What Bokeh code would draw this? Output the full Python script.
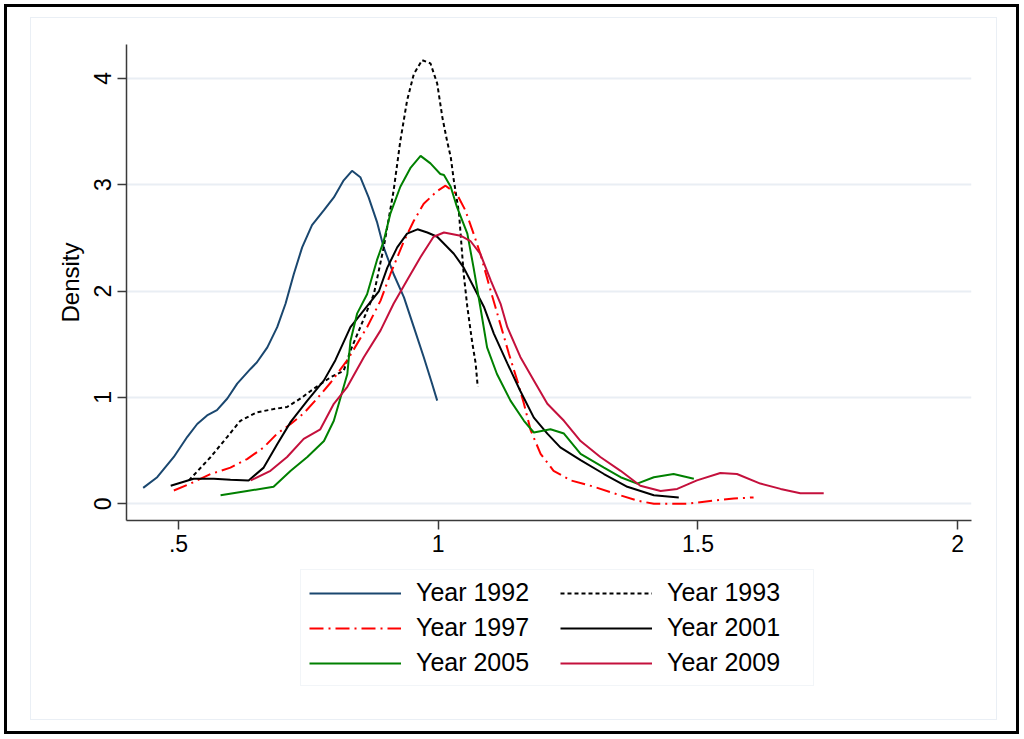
from bokeh.plotting import figure
from bokeh.models import Range1d, Legend, LegendItem, FixedTicker, Div
from bokeh.layouts import column
from bokeh.embed import file_html
from bokeh.resources import INLINE

# ---- data ----
x1992 = [0.432, 0.459, 0.491, 0.517, 0.536, 0.555, 0.574, 0.594, 0.613, 0.639, 0.651, 0.671, 0.690, 0.706,
         0.722, 0.738, 0.757, 0.780, 0.799, 0.818, 0.834, 0.850, 0.866, 0.882, 0.895, 0.914, 0.934, 0.953,
         0.972, 0.988, 0.998]
y1992 = [0.15, 0.25, 0.44, 0.63, 0.75, 0.83, 0.88, 0.99, 1.13, 1.27, 1.33, 1.47, 1.66, 1.88,
         2.16, 2.41, 2.62, 2.76, 2.88, 3.04, 3.13, 3.07, 2.88, 2.65, 2.41, 2.16, 1.94, 1.66,
         1.38, 1.13, 0.97]

x1993 = [0.520, 0.562, 0.594, 0.619, 0.651, 0.683, 0.709, 0.735, 0.760, 0.793, 0.818, 0.831, 0.850, 0.876,
         0.895, 0.914, 0.927, 0.940, 0.953, 0.969, 0.985, 0.998, 1.008, 1.017, 1.024, 1.030, 1.040, 1.049,
         1.056, 1.065, 1.072, 1.076]
y1993 = [0.22, 0.44, 0.63, 0.78, 0.86, 0.89, 0.91, 0.99, 1.08, 1.19, 1.25, 1.44, 1.66, 1.97,
         2.41, 2.94, 3.41, 3.79, 4.04, 4.17, 4.14, 3.95, 3.63, 3.41, 3.26, 3.04, 2.73, 2.16,
         1.85, 1.53, 1.32, 1.10]

x1997 = [0.491, 0.523, 0.562, 0.600, 0.632, 0.664, 0.690, 0.716, 0.741, 0.767, 0.793, 0.825, 0.863, 0.889,
         0.908, 0.934, 0.953, 0.972, 0.998, 1.014, 1.036, 1.052, 1.068, 1.081, 1.097, 1.110, 1.123, 1.136,
         1.152, 1.165, 1.178, 1.197, 1.222, 1.255, 1.300, 1.344, 1.383, 1.415, 1.479, 1.530, 1.569, 1.607]
y1997 = [0.125, 0.19, 0.28, 0.34, 0.42, 0.53, 0.66, 0.75, 0.85, 0.99, 1.14, 1.35, 1.66, 1.91,
         2.16, 2.47, 2.66, 2.82, 2.94, 2.99, 2.91, 2.76, 2.54, 2.35, 2.07, 1.85, 1.63, 1.41,
         1.16, 0.94, 0.69, 0.47, 0.31, 0.22, 0.16, 0.09, 0.03, 0.0, 0.0, 0.03, 0.05, 0.06]

x2001 = [0.485, 0.529, 0.568, 0.600, 0.635, 0.664, 0.690, 0.716, 0.748, 0.780, 0.802, 0.831, 0.857, 0.886,
         0.902, 0.921, 0.940, 0.960, 0.979, 0.998, 1.030, 1.049, 1.068, 1.088, 1.107, 1.133, 1.158, 1.184,
         1.210, 1.235, 1.274, 1.319, 1.364, 1.415, 1.463]
y2001 = [0.17, 0.235, 0.235, 0.225, 0.22, 0.34, 0.56, 0.77, 0.97, 1.16, 1.35, 1.66, 1.82, 2.00,
         2.22, 2.41, 2.54, 2.58, 2.55, 2.51, 2.35, 2.22, 2.04, 1.85, 1.60, 1.32, 1.06, 0.81,
         0.66, 0.53, 0.41, 0.28, 0.16, 0.08, 0.06]

x2005 = [0.581, 0.632, 0.683, 0.716, 0.748, 0.780, 0.799, 0.812, 0.825, 0.831, 0.844, 0.863, 0.882, 0.895,
         0.908, 0.927, 0.947, 0.966, 0.985, 1.004, 1.011, 1.024, 1.036, 1.056, 1.068, 1.081, 1.094, 1.113,
         1.139, 1.165, 1.184, 1.216, 1.242, 1.274, 1.319, 1.351, 1.383, 1.415, 1.453, 1.492]
y2005 = [0.08, 0.12, 0.16, 0.31, 0.44, 0.59, 0.78, 1.00, 1.22, 1.53, 1.79, 1.97, 2.29, 2.47,
         2.73, 2.98, 3.16, 3.27, 3.20, 3.10, 3.09, 2.98, 2.79, 2.54, 2.22, 1.85, 1.47, 1.22,
         0.97, 0.78, 0.67, 0.70, 0.66, 0.47, 0.34, 0.25, 0.19, 0.25, 0.28, 0.235]

x2009 = [0.639, 0.677, 0.709, 0.741, 0.773, 0.799, 0.825, 0.857, 0.889, 0.914, 0.940, 0.966, 0.991, 1.011,
         1.043, 1.062, 1.081, 1.101, 1.120, 1.133, 1.158, 1.184, 1.210, 1.242, 1.274, 1.312, 1.351, 1.389,
         1.428, 1.460, 1.498, 1.543, 1.575, 1.620, 1.659, 1.697, 1.742]
y2009 = [0.22, 0.31, 0.44, 0.61, 0.70, 0.94, 1.10, 1.38, 1.63, 1.88, 2.10, 2.32, 2.51, 2.55,
         2.52, 2.47, 2.35, 2.10, 1.88, 1.66, 1.38, 1.16, 0.94, 0.78, 0.59, 0.44, 0.31, 0.17,
         0.12, 0.14, 0.22, 0.29, 0.28, 0.19, 0.14, 0.10, 0.10]

x_ticks = [0.5, 1.0, 1.5, 2.0]
x_tick_labels = [".5", "1", "1.5", "2"]
y_ticks = [0, 1, 2, 3, 4]
y_tick_labels = ["0", "1", "2", "3", "4"]
y_title = "Density"

series = [
    ("Year 1992", x1992, y1992, "#1a476f", "solid"),
    ("Year 1993", x1993, y1993, "#000000", "4 3"),
    ("Year 1997", x1997, y1997, "#ff0000", "14 5 2 5"),
    ("Year 2001", x2001, y2001, "#000000", "solid"),
    ("Year 2005", x2005, y2005, "#008000", "solid"),
    ("Year 2009", x2009, y2009, "#c4103c", "solid"),
]
legend_order = ["Year 1992", "Year 1997", "Year 2005", "Year 1993", "Year 2001", "Year 2009"]

FONT = "Liberation Sans"
W = 1020
H1, H2 = 568, 167

# ---- main plot ----
p = figure(width=W, height=H1, output_backend="svg", toolbar_location=None,
           x_range=Range1d(0.3999, 2.0265), y_range=Range1d(-0.157, 4.317),
           min_border_left=126, min_border_right=49, min_border_top=44, min_border_bottom=48)
p.outline_line_color = None
p.background_fill_color = "white"
p.border_fill_color = "white"

for name, xs, ys, col, dash in series:
    p.line(xs, ys, line_color=col, line_width=2, line_dash=dash)

for ax in (p.xaxis[0], p.yaxis[0]):
    ax.axis_line_color = "#3a3a3a"
    ax.axis_line_width = 1.5
    ax.major_tick_line_color = "#3a3a3a"
    ax.major_tick_line_width = 1.5
    ax.major_tick_out = 9
    ax.major_tick_in = 0
    ax.minor_tick_line_color = None
    ax.major_label_text_font = FONT
    ax.major_label_text_font_size = "23px"
    ax.major_label_text_color = "black"

p.xaxis.ticker = FixedTicker(ticks=x_ticks)
p.xaxis.major_label_overrides = {t: l for t, l in zip(x_ticks, x_tick_labels)}
p.xaxis.major_label_standoff = 5
p.yaxis.ticker = FixedTicker(ticks=y_ticks)
p.yaxis.major_label_overrides = {t: l for t, l in zip(y_ticks, y_tick_labels)}
p.yaxis.major_label_orientation = "vertical"
p.yaxis.major_label_standoff = 6
p.yaxis.axis_label = y_title
p.yaxis.axis_label_text_font = FONT
p.yaxis.axis_label_text_font_size = "24px"
p.yaxis.axis_label_text_font_style = "normal"
p.yaxis.axis_label_text_color = "black"
p.yaxis.axis_label_standoff = 8

p.xgrid.grid_line_color = None
p.ygrid.grid_line_color = "#e9eef4"
p.ygrid.grid_line_width = 2

# ---- legend panel (same line styles as the series) ----
q = figure(width=W, height=H2, output_backend="svg", toolbar_location=None,
           x_axis_location=None, y_axis_location=None, min_border=0,
           x_range=Range1d(0, 1), y_range=Range1d(0, 1))
q.outline_line_color = None
q.xgrid.grid_line_color = None
q.ygrid.grid_line_color = None
q.border_fill_color = "white"

lookup = {name: (xs, ys, col, dash) for name, xs, ys, col, dash in series}
legend_renderers = {}
for name in legend_order:
    xs, ys, col, dash = lookup[name]
    # one-point line: nothing drawn in the panel, but it gives the legend its style
    legend_renderers[name] = q.line(xs[:1], ys[:1], line_color=col, line_width=2, line_dash=dash)

items = [LegendItem(label=n, renderers=[legend_renderers[n]]) for n in legend_order]
legend = Legend(items=items, ncols=2, location=(174, 49),
                label_text_font=FONT, label_text_font_size="25px", label_text_color="black",
                glyph_width=92, glyph_height=28, label_height=28, label_width=138,
                label_standoff=15, spacing=6, padding=8, margin=0,
                border_line_color="#e6ecf2", border_line_width=1,
                background_fill_color="white", background_fill_alpha=1)
q.add_layout(legend, "center")

inner_box = Div(text="", width=10, height=10, margin=0,
                styles={"position": "absolute", "left": "30px", "top": "17px",
                        "width": "967px", "height": "703px",
                        "border": "1.5px solid #eaeff5", "box-sizing": "border-box",
                        "pointer-events": "none", "z-index": "9"})
outer_box = Div(text="", width=10, height=10, margin=0,
                styles={"position": "absolute", "left": "4px", "top": "4px",
                        "width": "1015px", "height": "730px",
                        "border": "3px solid black", "box-sizing": "border-box",
                        "pointer-events": "none", "z-index": "10"})

layout = column(p, q, inner_box, outer_box, spacing=0, styles={"position": "relative"})

open("out.html", "w").write(file_html(layout, INLINE))
